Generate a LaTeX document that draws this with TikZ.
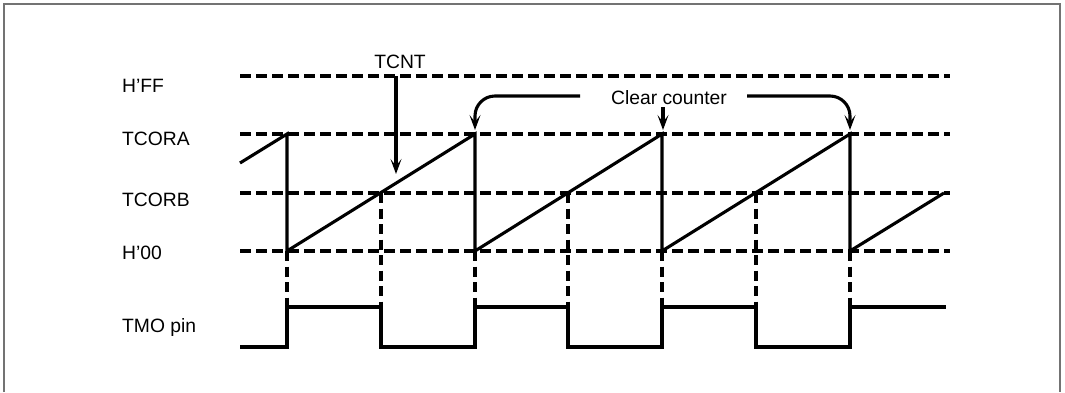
\documentclass[tikz,border=0pt]{standalone}
\usepackage{fontspec}
\setmainfont{Liberation Sans}
\usetikzlibrary{arrows.meta}
\begin{document}
\begin{tikzpicture}[x=1pt,y=-1pt,
  lbl/.style={font=\fontsize{19.3}{22}\selectfont, inner sep=0pt},
  level/.style={line width=3.1pt, dash pattern=on 10.5pt off 5.5pt},
  vdash/.style={line width=3.1pt, dash pattern=on 10pt off 5.5pt},
  sig/.style={line width=3.1pt},
  arr/.style={line width=3.1pt, -{Stealth[length=15pt,width=11pt,inset=7pt]}},
  framec/.style={draw=black!55, line width=2pt}]
\useasboundingbox (0,0) rectangle (1065,392);
\fill[white] (0,0) rectangle (1065,392);
% frame (bottom edge lies outside the picture)
\draw[framec] (3.5,392) -- (3.5,3.5) -- (1060,3.5) -- (1060,392);

% level labels
\node[lbl, anchor=base west] (lff)  at (122,92)  {H’FF};
\node[lbl, anchor=base west] (lca)  at (122,145) {TCORA};
\node[lbl, anchor=base west] (lcb)  at (122,206) {TCORB};
\node[lbl, anchor=base west] (l00)  at (122,259) {H’00};
\node[lbl, anchor=base west] (ltmo) at (122,332) {TMO pin};

% dashed level lines
\draw[level] (240,76)  -- (950,76);
\draw[level] (240,134) -- (950,134);
\draw[level] (240,193) -- (950,193);
\draw[level] (240,251) -- (950,251);

% TCNT sawtooth
\draw[sig, line join=miter] (240,163) -- (287,134) -- (287,251) -- (475,134) -- (475,251)
  -- (662,134) -- (662,251) -- (850,134) -- (850,251) -- (944,193);

% vertical dashed guides
\foreach \x in {287,475,662,850} \draw[vdash] (\x,251) -- (\x,307);
\foreach \x in {381,568,756} \draw[vdash] (\x,193) -- (\x,307);

% TMO pin waveform
\draw[sig] (240,347) -- (287,347) -- (287,307) -- (381,307) -- (381,347) -- (475,347)
  -- (475,307) -- (568,307) -- (568,347) -- (662,347) -- (662,307) -- (756,307)
  -- (756,347) -- (850,347) -- (850,307) -- (946,307);

% TCNT label and arrow
\node[lbl, anchor=base] (tcnt) at (400,68) {TCNT};
\coordinate (tcntS) at (396,76);
\coordinate (tcntE) at (396,174);
\draw[arr] (tcntS) -- (tcntE);

% Clear counter label and arrows
\node[lbl, anchor=base] (clr) at (669,104) {Clear counter};
\coordinate (cL0) at (580,96);
\coordinate (cL1) at (475,130);
\coordinate (cM0) at (663,107);
\coordinate (cM1) at (663,130);
\coordinate (cR0) at (747,96);
\coordinate (cR1) at (850,130);
\draw[arr, rounded corners=20pt] (cL0) -- (cL0 -| cL1) -- (cL1);
\draw[arr] (cM0) -- (cM1);
\draw[arr, rounded corners=20pt] (cR0) -- (cR0 -| cR1) -- (cR1);
\end{tikzpicture}
\end{document}
